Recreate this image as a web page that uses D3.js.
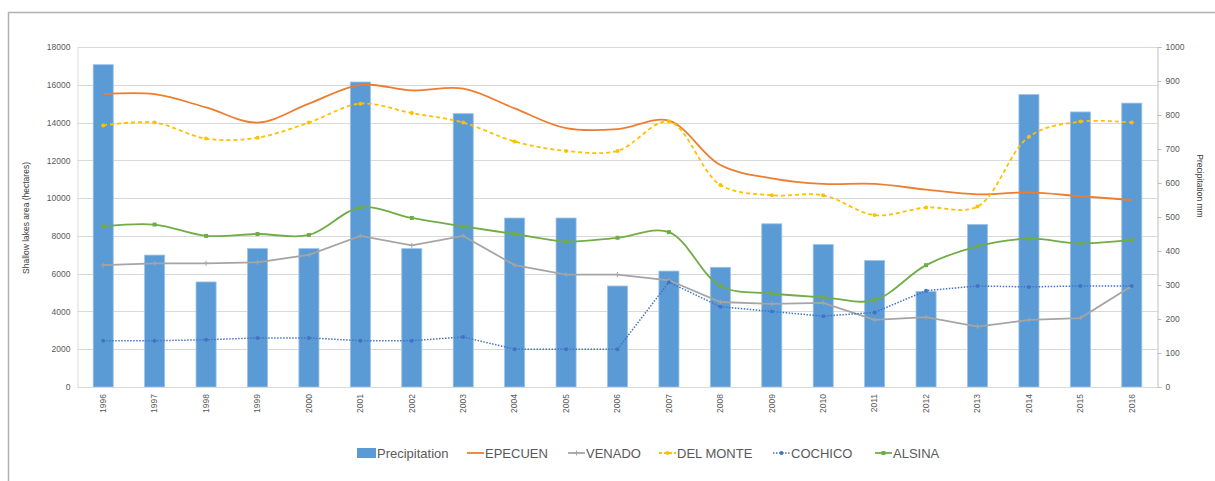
<!DOCTYPE html>
<html><head><meta charset="utf-8">
<script src="https://cdn.jsdelivr.net/npm/d3@7"></script>
<style>body{margin:0;background:#fff;font-family:"Liberation Sans",Arial,sans-serif}</style>
</head><body><svg id="c" width="1215" height="481"></svg>
<script>
const years=["1996","1997","1998","1999","2000","2001","2002","2003","2004","2005","2006","2007","2008","2009","2010","2011","2012","2013","2014","2015","2016"];
const precipitation=[948,388,309,407,407,897,407,804,497,497,297,341,352,480,419,372,281,478,860,809,835];
const epecuen=[15500,15500,14800,14000,15000,16000,15700,15800,14750,13700,13650,14100,11750,11050,10750,10750,10450,10200,10300,10100,9900];
const venado=[6450,6550,6550,6600,7000,8000,7500,8000,6450,5950,5950,5650,4500,4400,4450,3550,3700,3200,3550,3650,5350];
const delMonte=[13850,14000,13150,13200,14000,15000,14500,14000,13000,12500,12500,14050,10700,10150,10150,9100,9500,9550,13250,14050,14000];
const cochico=[2450,2450,2500,2600,2600,2450,2450,2650,2000,2000,2000,5550,4250,4000,3750,3950,5100,5350,5300,5350,5350];
const alsina=[8500,8600,8000,8100,8050,9500,8950,8500,8100,7700,7900,8200,5350,4950,4750,4600,6450,7450,7850,7600,7800];
const leftTicks=[0,2000,4000,6000,8000,10000,12000,14000,16000,18000];
const rightTicks=[0,100,200,300,400,500,600,700,800,900,1000];

const svg=d3.select("#c");
const L=77.5,R=1157.5,T=47,B=387;
const x=d3.scaleBand().domain(years).range([L,R]).padding(0);
const yL=d3.scaleLinear().domain([0,18000]).range([B,T]);
const yR=d3.scaleLinear().domain([0,1000]).range([B,T]);
const cx=d=>x(d)+x.bandwidth()/2;

// frame (left and top edges)
svg.append("path").attr("d","M8.5,481V12.5H1215").attr("fill","none").attr("stroke","#B0B0B0").attr("stroke-width",1.5);

// gridlines
svg.append("g").selectAll("line").data(leftTicks.slice(1)).join("line")
 .attr("x1",L).attr("x2",R).attr("y1",d=>Math.round(yL(d))+0.5).attr("y2",d=>Math.round(yL(d))+0.5)
 .attr("stroke","#D9D9D9").attr("stroke-width",1);

// bars
const bw=x.bandwidth()*0.39;
svg.append("g").selectAll("rect").data(years).join("rect")
 .attr("x",(d)=>cx(d)-bw/2).attr("width",bw)
 .attr("y",(d,i)=>yR(precipitation[i])).attr("height",(d,i)=>B-yR(precipitation[i]))
 .attr("fill","#5B9BD5").attr("stroke","#9DC3E6").attr("stroke-width",0.8);

// x axis baseline
svg.append("line").attr("x1",L).attr("x2",R).attr("y1",B+0.5).attr("y2",B+0.5).attr("stroke","#D9D9D9");

// left axis
const gl=svg.append("g").attr("transform",`translate(${L},0)`).call(d3.axisLeft(yL).tickValues(leftTicks).tickSize(0).tickPadding(7).tickFormat(d3.format("d")));
gl.select(".domain").attr("stroke","#D9D9D9");
gl.selectAll("text").attr("font-family","Liberation Sans, Arial, sans-serif").attr("font-size",8.5).attr("fill","#595959");

// right axis
const gr=svg.append("g").attr("transform",`translate(${R},0)`).call(d3.axisRight(yR).tickValues(rightTicks).tickSize(4).tickPadding(4).tickFormat(d3.format("d")));
gr.selectAll(".domain,line").attr("stroke","#BFBFBF");
gr.selectAll("text").attr("font-family","Liberation Sans, Arial, sans-serif").attr("font-size",8.5).attr("fill","#595959");

// x axis labels
const gx=svg.append("g").attr("transform",`translate(0,${B})`).call(d3.axisBottom(x).tickSize(0).tickPadding(0));
gx.select(".domain").remove();
gx.selectAll("text").attr("font-family","Liberation Sans, Arial, sans-serif").attr("font-size",8.5).attr("fill","#595959")
 .attr("transform","rotate(-90)").attr("text-anchor","end").attr("dy","0.32em").attr("x",-7).attr("y",0);

// axis titles
svg.append("text").attr("transform","translate(29,218) rotate(-90)").attr("text-anchor","middle")
 .attr("font-size",8.5).attr("fill","#404040").text("Shallow lakes area (hectares)");
svg.append("text").attr("transform","translate(1197,186) rotate(90)").attr("text-anchor","middle")
 .attr("font-size",8.5).attr("fill","#404040").text("Precipitation mm");

// lines
const series=[
 {name:"EPECUEN",data:epecuen,color:"#ED7D31",smooth:true,dash:null,marker:null,w:1.8},
 {name:"VENADO",data:venado,color:"#A5A5A5",smooth:false,dash:null,marker:"plus",w:1.8},
 {name:"DEL MONTE",data:delMonte,color:"#FFC000",smooth:true,dash:"4,3",marker:"circle",w:1.8},
 {name:"COCHICO",data:cochico,color:"#4472C4",smooth:false,dash:"1.5,1.5",marker:"circle",w:1.5},
 {name:"ALSINA",data:alsina,color:"#70AD47",smooth:true,dash:null,marker:"square",w:1.8},
];
series.forEach(s=>{
 const line=d3.line().x((d,i)=>cx(years[i])).y(d=>yL(d)).curve(s.smooth?d3.curveCatmullRom.alpha(0.5):d3.curveLinear);
 const p=svg.append("path").datum(s.data).attr("d",line).attr("fill","none").attr("stroke",s.color).attr("stroke-width",s.w);
 if(s.dash)p.attr("stroke-dasharray",s.dash);
 const g=svg.append("g");
 if(s.marker==="circle"){
  g.selectAll("circle").data(s.data).join("circle").attr("cx",(d,i)=>cx(years[i])).attr("cy",d=>yL(d)).attr("r",2).attr("fill",s.color);
 } else if(s.marker==="square"){
  g.selectAll("rect").data(s.data).join("rect").attr("x",(d,i)=>cx(years[i])-2).attr("y",d=>yL(d)-2).attr("width",4).attr("height",4).attr("fill",s.color);
 } else if(s.marker==="plus"){
  g.selectAll("path").data(s.data).join("path").attr("d",(d,i)=>{const X=cx(years[i]),Y=yL(d);return `M${X-2.5},${Y}H${X+2.5}M${X},${Y-2.5}V${Y+2.5}`;}).attr("stroke",s.color).attr("stroke-width",1);
 }
});

// legend
const ly=453;
const leg=svg.append("g").attr("font-size",13).attr("fill","#595959");
leg.append("rect").attr("x",357).attr("y",ly-5).attr("width",19).attr("height",10).attr("fill","#5B9BD5");
leg.append("text").attr("x",377).attr("y",ly).attr("dy","0.35em").attr("fill","#595959").text("Precipitation");
const legItems=[{s:series[0],x:467},{s:series[1],x:568},{s:series[2],x:659},{s:series[3],x:773},{s:series[4],x:875}];
legItems.forEach(it=>{
 const s=it.s;
 const l=leg.append("line").attr("x1",it.x).attr("x2",it.x+17).attr("y1",ly).attr("y2",ly).attr("stroke",s.color).attr("stroke-width",s.w);
 if(s.dash)l.attr("stroke-dasharray",s.dash==="4,3"?"3,2":s.dash);
 const mx=it.x+8.5;
 if(s.marker==="circle")leg.append("circle").attr("cx",mx).attr("cy",ly).attr("r",2).attr("fill",s.color);
 if(s.marker==="square")leg.append("rect").attr("x",mx-2).attr("y",ly-2).attr("width",4).attr("height",4).attr("fill",s.color);
 if(s.marker==="plus")leg.append("path").attr("d",`M${mx-2.5},${ly}H${mx+2.5}M${mx},${ly-2.5}V${ly+2.5}`).attr("stroke",s.color);
 leg.append("text").attr("x",it.x+18).attr("y",ly).attr("dy","0.35em").attr("fill","#595959").text(s.name);
});
</script></body></html>
